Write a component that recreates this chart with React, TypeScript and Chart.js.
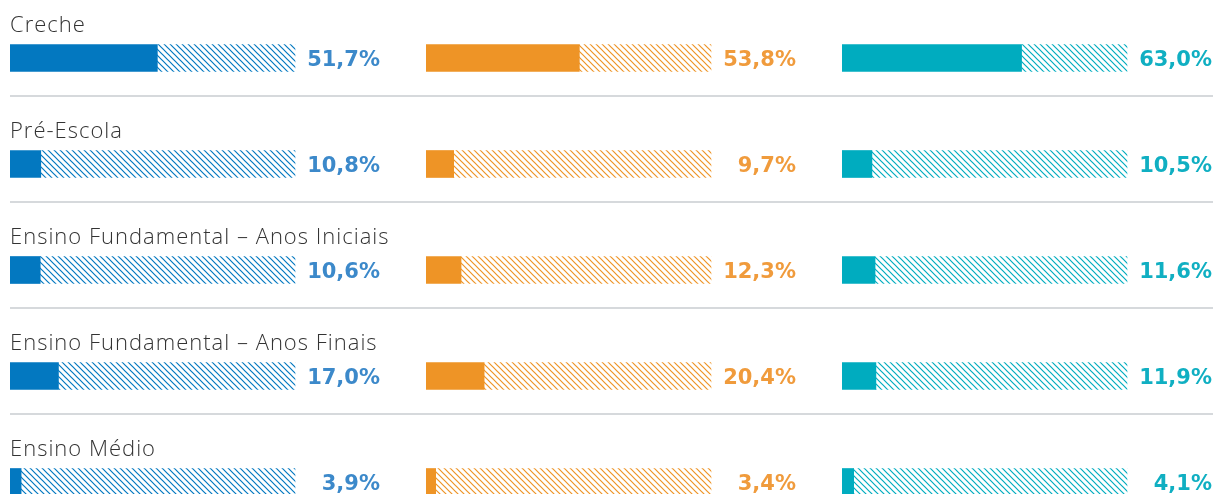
import React, { useEffect, useRef } from 'react';
import { Chart, registerables } from 'chart.js';

Chart.register(...registerables);

// ---- data ----
const categories = [
  'Creche',
  'Pré-Escola',
  'Ensino Fundamental – Anos Iniciais',
  'Ensino Fundamental – Anos Finais',
  'Ensino Médio',
];
const blueValues = [51.7, 10.8, 10.6, 17.0, 3.9];
const orangeValues = [53.8, 9.7, 12.3, 20.4, 3.4];
const tealValues = [63.0, 10.5, 11.6, 11.9, 4.1];
const TOTAL = 100;

// ---- styles ----
const seriesStyles = [
  { bar: '#0378c0', label: '#3c89ca' },
  { bar: '#ee9426', label: '#f09b3c' },
  { bar: '#00acbf', label: '#10afc2' },
];
const seriesData = [blueValues, orangeValues, tealValues];
const COL_W = [416, 416, 373];
const BAR_W = 285;
const LABEL_GAP = 85;

function hatch(color: string): CanvasPattern {
  const s = 6;
  const c = document.createElement('canvas');
  c.width = s;
  c.height = s;
  const ctx = c.getContext('2d')!;
  ctx.strokeStyle = color;
  ctx.lineWidth = 1.2;
  ctx.beginPath();
  ctx.moveTo(0, 0);
  ctx.lineTo(s, s);
  ctx.moveTo(-1, s - 1);
  ctx.lineTo(1, s + 1);
  ctx.moveTo(s - 1, -1);
  ctx.lineTo(s + 1, 1);
  ctx.stroke();
  return ctx.createPattern(c, 'repeat')!;
}

const fmt = (v: number) => v.toFixed(1).replace('.', ',') + '%';

const overlayPlugin = {
  id: 'overlay',
  afterDraw(chart: any) {
    const ctx = chart.ctx as CanvasRenderingContext2D;
    const yScale = chart.scales.y;
    ctx.save();
    categories.forEach((cat, i) => {
      const y = yScale.getPixelForValue(i);
      // category label
      ctx.save();
      ctx.font = '300 22px "Open Sans", sans-serif';
      (ctx as any).letterSpacing = '1px';
      ctx.fillStyle = '#333333';
      ctx.textAlign = 'left';
      ctx.textBaseline = 'alphabetic';
      ctx.fillText(cat, 10, y - 26);
      ctx.restore();
      // separator
      if (i < categories.length - 1) {
        ctx.strokeStyle = '#c8ccd1';
        ctx.lineWidth = 1.5;
        ctx.beginPath();
        ctx.moveTo(10, y + 38);
        ctx.lineTo(1213, y + 38);
        ctx.stroke();
      }
      // values
      seriesData.forEach((vals, s) => {
        const xs = chart.scales['x' + s];
        const xEnd = xs.getPixelForValue(TOTAL);
        ctx.font = 'bold 21px "DejaVu Sans", sans-serif';
        ctx.fillStyle = seriesStyles[s].label;
        ctx.textAlign = 'right';
        ctx.textBaseline = 'alphabetic';
        ctx.fillText(fmt(vals[i]), xEnd + LABEL_GAP, y + 8);
      });
    });
    ctx.restore();
  },
};

export default function App() {
  const ref = useRef<HTMLCanvasElement>(null);
  useEffect(() => {
    if (!ref.current) return;
    const datasets: any[] = [];
    const scales: any = {
      y: {
        type: 'category',
        labels: categories,
        offset: true,
        display: false,
        grid: { display: false },
      },
    };
    seriesData.forEach((vals, s) => {
      const id = 'x' + s;
      datasets.push({
        label: 'v' + s,
        data: vals,
        xAxisID: id,
        stack: 'st' + s,
        grouped: false,
        barThickness: 27,
        backgroundColor: seriesStyles[s].bar,
        borderWidth: 0,
      });
      datasets.push({
        label: 'r' + s,
        data: vals.map((v) => TOTAL - v),
        xAxisID: id,
        stack: 'st' + s,
        grouped: false,
        barThickness: 27,
        backgroundColor: hatch(seriesStyles[s].bar),
        borderWidth: 0,
      });
      scales[id] = {
        type: 'linear',
        position: 'bottom',
        stack: 'cols',
        stackWeight: COL_W[s],
        min: 0,
        max: (TOTAL * COL_W[s]) / BAR_W,
        stacked: true,
        display: false,
        grid: { display: false },
      };
    });
    const chart = new Chart(ref.current, {
      type: 'bar',
      data: { labels: categories, datasets },
      options: {
        indexAxis: 'y',
        responsive: false,
        animation: false,
        layout: { padding: { left: 10, right: 0, top: 5, bottom: 0 } },
        plugins: { legend: { display: false }, tooltip: { enabled: false } },
        scales,
      },
      plugins: [overlayPlugin],
    } as any);
    return () => chart.destroy();
  }, []);
  return (
    <div style={{ position: 'absolute', left: 0, top: 0, width: 1215, height: 535 }}>
      <canvas ref={ref} width={1215} height={535} />
    </div>
  );
}
